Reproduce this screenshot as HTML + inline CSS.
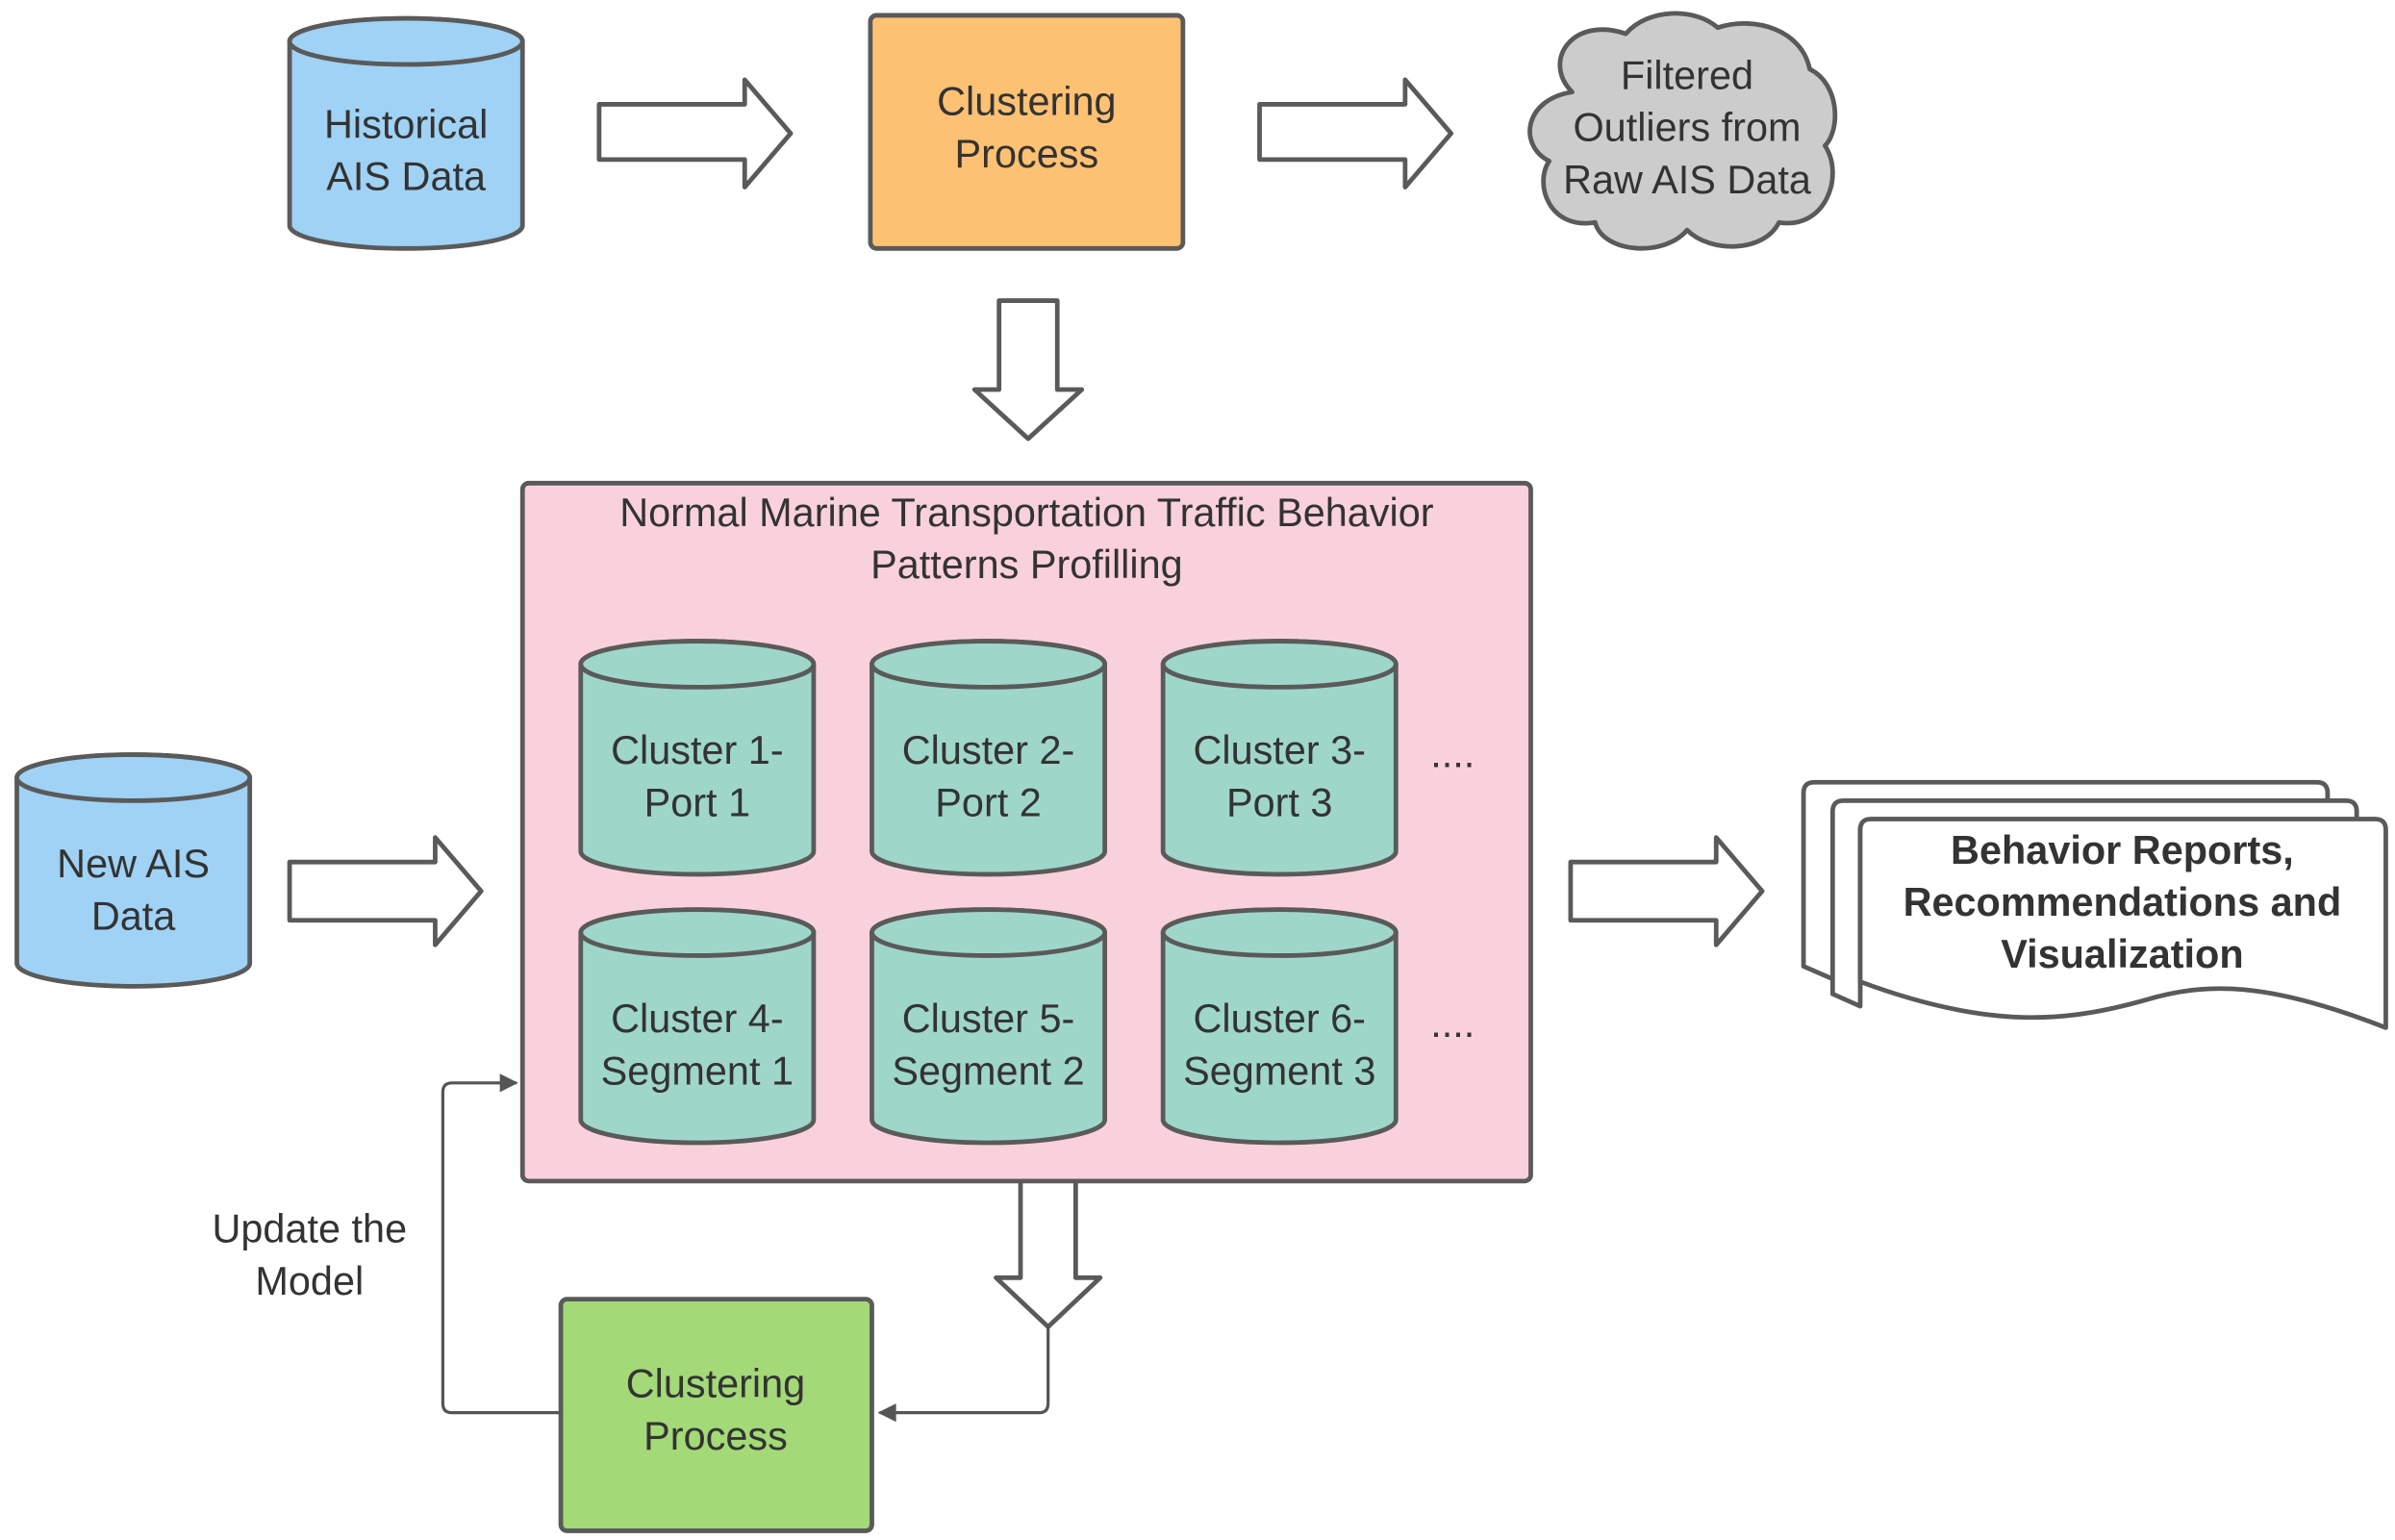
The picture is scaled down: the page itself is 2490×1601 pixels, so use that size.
<!DOCTYPE html>
<html><head><meta charset="utf-8"><style>
html,body{margin:0;padding:0;background:#fff;}
svg{display:block;}
text{font-family:"Liberation Sans",sans-serif;fill:#333;}
</style></head><body>
<svg width="2490" height="1601" viewBox="0 0 1563 1004" preserveAspectRatio="none" xmlns="http://www.w3.org/2000/svg">
<defs>
<marker id="ah" viewBox="0 0 10 10" refX="9" refY="5" markerWidth="14" markerHeight="12" orient="auto" markerUnits="userSpaceOnUse">
<path d="M0,0 L10,5 L0,10 z" fill="#555"/></marker>
</defs>
<g stroke="#5a5a5a" stroke-width="3" stroke-linejoin="round">
<path d="M189,27 A76,15 0 0 1 341,27 V147 A76,15 0 0 1 189,147 Z" fill="#9fd2f4"/>
<ellipse cx="265" cy="27" rx="76" ry="15" fill="#9fd2f4"/>
<rect x="568" y="10" width="204" height="152" rx="4" fill="#fdc173"/>
<path d="M1026,60 C1006,40 1026,10 1061,22 C1076,5 1106,5 1121,18 C1146,10 1176,20 1181,45 C1201,55 1201,85 1191,95 C1204,115 1191,150 1161,145 C1151,165 1116,165 1101,150 C1086,168 1046,165 1041,145 C1011,150 1001,120 1011,105 C991,95 994,65 1026,60 Z" fill="#cccccc"/>
<path d="M391,68 H486 V52 L516,87 L486,122 V104 H391 Z" fill="#fff"/>
<path d="M822,68 H917 V52 L947,87 L917,122 V104 H822 Z" fill="#fff"/>
<path d="M652,196 H690 V254 H706 L671,286 L636,254 H652 Z" fill="#fff"/>
<rect x="341" y="315" width="658" height="455" rx="4" fill="#f9d1dc"/>
<g fill="#9fd6ca">
<path d="M379,433 A76,15 0 0 1 531,433 V555 A76,15 0 0 1 379,555 Z"/><ellipse cx="455" cy="433" rx="76" ry="15"/>
<path d="M569,433 A76,15 0 0 1 721,433 V555 A76,15 0 0 1 569,555 Z"/><ellipse cx="645" cy="433" rx="76" ry="15"/>
<path d="M759,433 A76,15 0 0 1 911,433 V555 A76,15 0 0 1 759,555 Z"/><ellipse cx="835" cy="433" rx="76" ry="15"/>
<path d="M379,608 A76,15 0 0 1 531,608 V730 A76,15 0 0 1 379,730 Z"/><ellipse cx="455" cy="608" rx="76" ry="15"/>
<path d="M569,608 A76,15 0 0 1 721,608 V730 A76,15 0 0 1 569,730 Z"/><ellipse cx="645" cy="608" rx="76" ry="15"/>
<path d="M759,608 A76,15 0 0 1 911,608 V730 A76,15 0 0 1 759,730 Z"/><ellipse cx="835" cy="608" rx="76" ry="15"/>
</g>
<path d="M11,507 A76,15 0 0 1 163,507 V628 A76,15 0 0 1 11,628 Z" fill="#9fd2f4"/>
<ellipse cx="87" cy="507" rx="76" ry="15" fill="#9fd2f4"/>
<path d="M189,562 H284 V546 L314,581 L284,616 V600 H189 Z" fill="#fff"/>
<path d="M1025,562 H1120 V546 L1150,581 L1120,616 V600 H1025 Z" fill="#fff"/>
<path d="M1177,517 Q1177,510 1184,510 H1512 Q1519,510 1519,517 V540 H1214 V646 L1177,630 Z" fill="#fff"/>
<path d="M1196,529 Q1196,522 1203,522 H1531 Q1538,522 1538,529 V540 H1214 V656 L1196,648 Z" fill="#fff"/>
<path d="M1214,541 Q1214,534 1221,534 H1550 Q1557,534 1557,541 V670 C1480,640 1440,640 1400,652 C1350,666 1300,672 1214,640 Z" fill="#fff"/>
<path d="M666,770 H702 V833 H718 L684,865 L650,833 H666 Z" fill="#fff"/>
<rect x="366" y="847" width="203" height="151" rx="4" fill="#a3d977"/>
</g>
<g stroke="#555" stroke-width="2" fill="none">
<path d="M684,865 V915 Q684,921 678,921 H574" marker-end="url(#ah)"/>
<path d="M366,921 H295 Q289,921 289,915 V712 Q289,706 295,706 H337" marker-end="url(#ah)"/>
</g>
<g font-size="26" text-anchor="middle">
<text x="265" y="90">Historical</text><text x="265" y="124">AIS Data</text>
<text x="670" y="75">Clustering</text><text x="670" y="109">Process</text>
<text x="1101" y="58">Filtered</text><text x="1101" y="92">Outliers from</text><text x="1101" y="126">Raw AIS Data</text>
<text x="670" y="343">Normal Marine Transportation Traffic Behavior</text>
<text x="670" y="377">Patterns Profilling</text>
<text x="455" y="498">Cluster 1-</text><text x="455" y="532">Port 1</text>
<text x="645" y="498">Cluster 2-</text><text x="645" y="532">Port 2</text>
<text x="835" y="498">Cluster 3-</text><text x="835" y="532">Port 3</text>
<text x="455" y="673">Cluster 4-</text><text x="455" y="707">Segment 1</text>
<text x="645" y="673">Cluster 5-</text><text x="645" y="707">Segment 2</text>
<text x="835" y="673">Cluster 6-</text><text x="835" y="707">Segment 3</text>
<text x="948" y="500">....</text><text x="948" y="676">....</text>
<text x="87" y="572">New AIS</text><text x="87" y="606">Data</text>
<text x="202" y="810">Update the</text><text x="202" y="844">Model</text>
<text x="467" y="911">Clustering</text><text x="467" y="945">Process</text>
<g font-weight="bold"><text x="1385" y="563">Behavior Reports,</text><text x="1385" y="597">Recommendations and</text><text x="1385" y="631">Visualization</text></g>
</g>
</svg>
</body></html>
